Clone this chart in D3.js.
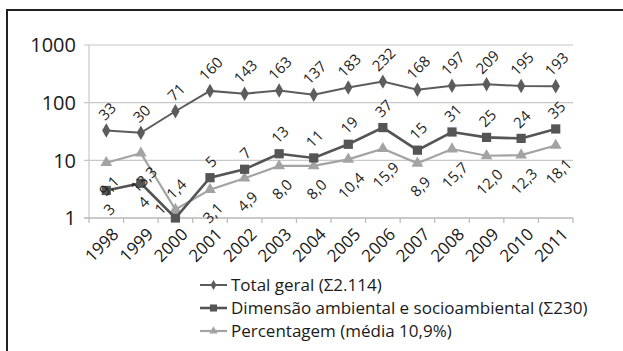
<!DOCTYPE html>
<html><head><meta charset="utf-8">
<script src="https://cdn.jsdelivr.net/npm/d3@7"></script>
<style>body{margin:0;background:#fff}svg{display:block}text{font-family:"Open Sans",sans-serif}</style>
</head><body>
<svg id="c" width="623" height="351"></svg>
<script>
const years = ["1998","1999","2000","2001","2002","2003","2004","2005","2006","2007","2008","2009","2010","2011"];
const totalGeral = [33,30,71,160,143,163,137,183,232,168,197,209,195,193];
const dimensao = [3,4,1,5,7,13,11,19,37,15,31,25,24,35];
const percentagem = [9.1,13.3,1.4,3.1,4.9,8.0,8.0,10.4,15.9,8.9,15.7,12.0,12.3,18.1];
const yTicks = [1,10,100,1000];
const legendLabels = ["Total geral (Σ2.114)","Dimensão ambiental e socioambiental (Σ230)","Percentagem (média 10,9%)"];
const dimPos = ["below","below","left","above","above","above","above","above","above","above","above","above","above","above"];
const pctPos = ["below","below","above","below","below","below","below","below","below","below","below","below","below","below"];
const totPos = years.map(()=>"above");

const svg = d3.select("#c");
const defs = svg.append("defs");
svg.append("path").attr("d","M7,360 L7,10 L630,10").attr("fill","none").attr("stroke","#222").attr("stroke-width",2);

const x = d3.scaleBand().domain(years).range([89,573]);
const y = d3.scaleLog().domain([1,1000]).range([218,45]);
const cx = d => x(d) + x.bandwidth()/2;

svg.append("g").selectAll("line").data(yTicks.filter(t=>t>1)).join("line")
  .attr("x1",84).attr("x2",573).attr("y1",d=>y(d)).attr("y2",d=>y(d))
  .attr("stroke","#c8c8c8").attr("stroke-width",1.2);
svg.append("line").attr("x1",89).attr("x2",89).attr("y1",y(1000)).attr("y2",y(1)).attr("stroke","#c8c8c8").attr("stroke-width",1.2);
const xa = svg.append("g").attr("transform",`translate(0,${y(1)})`)
  .call(d3.axisBottom(x).tickSize(0).tickFormat(""));
xa.select(".domain").attr("stroke","#b8b8b8").attr("stroke-width",1.3).attr("d","M84,0H573");
svg.append("g").selectAll("line").data(years.map(d=>x(d)).concat([573])).join("line")
  .attr("x1",d=>d).attr("x2",d=>d).attr("y1",y(1)).attr("y2",y(1)+5).attr("stroke","#b8b8b8").attr("stroke-width",1.2);
svg.append("g").selectAll("text").data(yTicks).join("text")
  .attr("x",76).attr("y",d=>y(d)).attr("dy","0.36em").attr("text-anchor","end")
  .attr("font-size",20).attr("fill","#1a1a1a").text(d=>d);
svg.append("g").selectAll("text").data(years).join("text")
  .attr("transform",d=>`translate(${cx(d)+5},${y(1)+9}) rotate(-45)`)
  .attr("text-anchor","end").attr("dy","0.7em").attr("font-size",17).attr("fill","#1a1a1a").text(d=>d);

const series = [
  {vals: totalGeral, color:"#5c5c5c", w:2, marker:"diamond", pos: totPos, fmt: d=>String(d)},
  {vals: dimensao, color:"#555555", w:2.6, marker:"square", pos: dimPos, fmt: d=>String(d)},
  {vals: percentagem, color:"#a3a3a3", w:2.2, marker:"triangle", pos: pctPos, fmt: d=>d.toFixed(1).replace(".",",")}
];
const symT = {diamond: d3.symbolDiamond, square: d3.symbolSquare, triangle: d3.symbolTriangle};
const symS = {diamond: 60, square: 85, triangle: 60};
const line = d3.line().x((d,i)=>cx(years[i])).y(d=>y(d));

[2,0,1].forEach(k=>{
  const s = series[k];
  svg.append("path").datum(s.vals).attr("d",line).attr("fill","none").attr("stroke",s.color).attr("stroke-width",s.w);
  svg.append("g").selectAll("path").data(s.vals).join("path")
    .attr("transform",(d,i)=>`translate(${cx(years[i])},${y(d)})`)
    .attr("d",d3.symbol().type(symT[s.marker]).size(symS[s.marker])()).attr("fill",s.color);
});

// data labels drawn along 45° guide paths (textPath), centred on (ox, oy)
const FS = 15;
const CW = 0.572*FS;
series.forEach((s,k)=>{
  const items = s.vals.map((v,i)=>{
    const str = s.fmt(v);
    const L = str.replace(",","").length*CW + (str.includes(",")?0.25*FS:0);
    const half = (L + 0.75*FS)/(2*Math.SQRT2);
    let px = cx(years[i]), py = y(v);
    const p = s.pos[i];
    let ox, oy;
    if (p==="above") { ox = px + 1; oy = py - half - 9; }
    else if (p==="below") { ox = px + 3; oy = py + half + 12; }
    else { ox = px - half - 8; oy = py - 9; }
    // shift baseline so glyphs are vertically centred on the guide
    const b = 0.35*FS/Math.SQRT2;
    const bx = ox + b, by = oy + b;
    const r = 30;
    return {str, id:`lbl${k}_${i}`, d:`M${bx - r},${by + r}L${bx + r},${by - r}`};
  });
  defs.selectAll(null).data(items).join("path").attr("id",d=>d.id).attr("d",d=>d.d);
  svg.append("g").selectAll("text").data(items).join("text")
    .attr("font-size",FS).attr("fill","#1e1e1e")
    .append("textPath").attr("href",d=>"#"+d.id)
    .attr("startOffset","50%").attr("text-anchor","middle").text(d=>d.str);
});

const lg = svg.append("g");
const rowsY = [285,308,331];
series.forEach((s,k)=>{
  lg.append("line").attr("x1",200).attr("x2",227).attr("y1",rowsY[k]).attr("y2",rowsY[k]).attr("stroke",s.color).attr("stroke-width",s.w);
  lg.append("path").attr("transform",`translate(213.5,${rowsY[k]})`)
    .attr("d",d3.symbol().type(symT[s.marker]).size(s.marker==="square"?50:30)()).attr("fill",s.color);
  lg.append("text").attr("x",231).attr("y",rowsY[k]).attr("dy","0.36em").attr("font-size",17).attr("fill","#1a1a1a").text(legendLabels[k]);
});
</script>
</body></html>
